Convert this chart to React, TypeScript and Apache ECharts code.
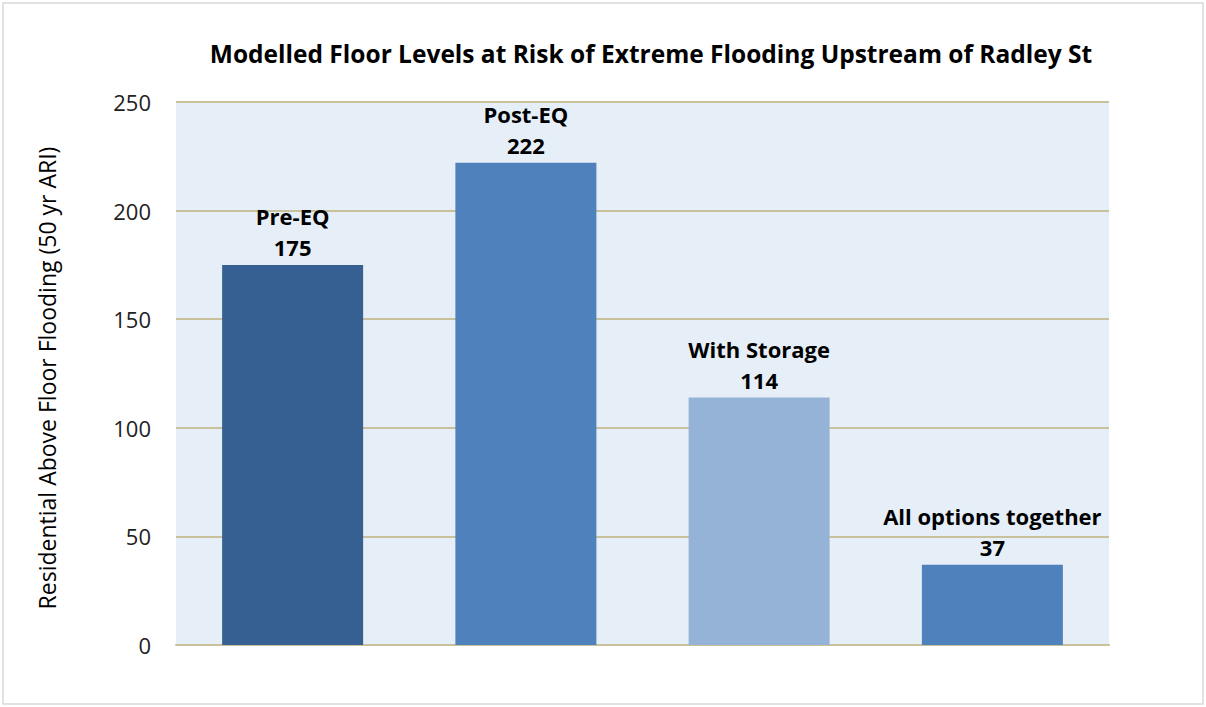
import React, { useEffect, useRef } from "react";
import * as echarts from "echarts";

const categories = ["Pre-EQ", "Post-EQ", "With Storage", "All options together"];
const values = [175, 222, 114, 37];
const barColors = ["#366092", "#4F81BD", "#95B3D7", "#4F81BD"];
const yTicks = { min: 0, max: 250, interval: 50 };
const titleText = "Modelled Floor Levels at Risk of Extreme Flooding Upstream of Radley St";
const yAxisTitle = "Residential Above Floor Flooding (50 yr ARI)";

const FONT = "'Open Sans', Lato, sans-serif";

export default function App() {
  const ref = useRef<HTMLDivElement>(null);
  useEffect(() => {
    if (!ref.current) return;
    const chart = echarts.init(ref.current, undefined, { renderer: "svg" });
    chart.setOption({
      animation: false,
      backgroundColor: "#FFFFFF",
      title: {
        text: titleText,
        left: 646,
        top: 36,
        textAlign: "center",
        textStyle: { fontFamily: FONT, fontSize: 24.5, fontWeight: "bold", color: "#000" },
      },
      graphic: [
        {
          type: "rect",
          shape: { x: 3, y: 3, width: 1200, height: 701 },
          style: { fill: "none", stroke: "#D9D9D9", lineWidth: 1.5 },
          silent: true,
        },
      ],
      grid: {
        left: 176,
        right: 97,
        top: 102,
        bottom: 62,
        show: true,
        backgroundColor: "#E6EEF8",
        borderWidth: 0,
      },
      xAxis: {
        type: "category",
        data: categories,
        axisLine: { show: true, lineStyle: { color: "#C9C19B", width: 2 } },
        axisTick: { show: false },
        axisLabel: { show: false },
      },
      yAxis: {
        type: "value",
        min: yTicks.min,
        max: yTicks.max,
        interval: yTicks.interval,
        name: yAxisTitle,
        nameLocation: "middle",
        nameGap: 118,
        nameTextStyle: { fontFamily: FONT, fontSize: 23, color: "#000", padding: [0, 9, 0, 0] },
        axisLine: { show: false },
        axisTick: { show: false },
        axisLabel: { fontFamily: FONT, fontSize: 22, color: "#222", margin: 25 },
        splitLine: { lineStyle: { color: "#C9C19B", width: 2 } },
      },
      series: [
        {
          type: "bar",
          barWidth: 141,
          data: values.map((v, i) => ({ value: v, itemStyle: { color: barColors[i] } })),
          label: {
            show: true,
            position: "top",
            distance: 2,
            formatter: "{b}\n{c}",
            fontFamily: FONT,
            fontSize: 22,
            fontWeight: "bold",
            lineHeight: 31,
            color: "#000",
            align: "center",
          },
        },
      ],
    });
    return () => chart.dispose();
  }, []);
  return (
    <div
      ref={ref}
      style={{ position: "fixed", left: 0, top: 0, width: 1206, height: 707 }}
    />
  );
}
